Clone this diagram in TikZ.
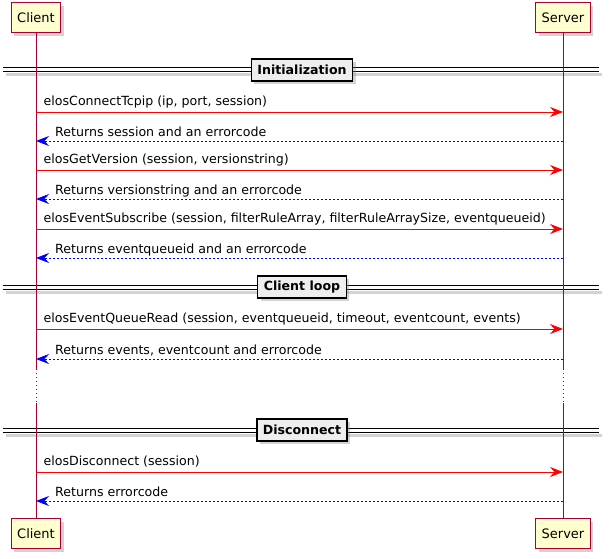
\documentclass[tikz,border=0pt]{standalone}
\usepackage{fontspec}
\setmainfont{DejaVu Sans}
\usetikzlibrary{arrows.meta, shadows, positioning}

\definecolor{lifered}{HTML}{A80036}
\definecolor{actorfill}{HTML}{FEFECE}
\definecolor{dividerfill}{HTML}{EEEEEE}

\begin{document}
\begin{tikzpicture}[
    x=1pt, y=-1pt,
    actor/.style={draw=lifered, fill=actorfill, line width=1pt, minimum height=30pt, inner xsep=6pt,
        font=\fontsize{13}{15}\selectfont,
        drop shadow={opacity=0.35, fill=gray, shadow xshift=3pt, shadow yshift=-3pt}},
    lifeline/.style={draw=lifered, line width=0.9pt},
    call/.style={red, line width=0.9pt, -{Stealth[length=13pt, width=10pt, inset=4.5pt]}},
    reply/.style={blue, line width=0.9pt, dash pattern=on 2pt off 2pt, -{Stealth[length=13pt, width=10pt, inset=4.5pt]}},
    msgfont/.style={font=\fontsize{12.6}{14}\selectfont, anchor=base west, inner sep=0pt},
    divider/.style={draw=black, line width=1.4pt, fill=dividerfill, minimum height=22pt, inner xsep=6pt,
        font=\bfseries\fontsize{12.6}{14}\selectfont,
        drop shadow={opacity=0.35, fill=gray, shadow xshift=3pt, shadow yshift=-3pt}}
]
\useasboundingbox (0,0) rectangle (610,559);

% Lifeline positions
\def\cx{36}
\def\sx{563}
\def\gaptop{369}
\def\gapbot{403}

% Dividers
\foreach \d/\y/\txt in {1/70/Initialization, 2/287/Client loop, 3/430/Disconnect} {
    \coordinate (dl\d) at (3,\y);
    \coordinate (dr\d) at (599,\y);
    \draw[gray, opacity=0.35, line width=3pt] ([xshift=3pt, yshift=-5pt]dl\d) -- ([xshift=3pt, yshift=-5pt]dr\d);
    \draw[line width=1pt] ([yshift=2pt]dl\d) -- ([yshift=2pt]dr\d);
    \draw[line width=1pt] ([yshift=-2pt]dl\d) -- ([yshift=-2pt]dr\d);
    \node[divider] (div\d) at (302,\y) {\txt\hspace{11pt}};
}

% Participants
\node[actor] (ctop) at (\cx,18) {Client};
\node[actor] (stop) at (\sx,18) {Server};
\node[actor] (cbot) at (\cx,533.5) {Client};
\node[actor] (sbot) at (\sx,533.5) {Server};

% Lifelines with the dotted break
\coordinate (cg1) at (\cx,\gaptop);
\coordinate (cg2) at (\cx,\gapbot);
\coordinate (sg1) at (\sx,\gaptop);
\coordinate (sg2) at (\sx,\gapbot);
\draw[lifeline] (ctop.south) -- (cg1);
\draw[lifeline] (stop.south) -- (sg1);
\draw[lifeline, dash pattern=on 1pt off 3pt] (cg1) -- (cg2);
\draw[lifeline, dash pattern=on 1pt off 3pt] (sg1) -- (sg2);
\draw[lifeline] (cg2) -- (cbot.north);
\draw[lifeline] (sg2) -- (sbot.north);

% Calls
\foreach \i/\y/\txt in {1/112/{elosConnectTcpip (ip, port, session)},
                        2/170/{elosGetVersion (session, versionstring)},
                        3/229/{elosEventSubscribe (session, filterRuleArray, filterRuleArraySize, eventqueueid)},
                        4/329/{elosEventQueueRead (session, eventqueueid, timeout, eventcount, events)},
                        5/472/{elosDisconnect (session)}} {
    \coordinate (cc\i) at (\cx,\y);
    \coordinate (sc\i) at (\sx,\y);
    \draw[call] (cc\i) -- (sc\i);
    \node[msgfont] (call\i) at (\cx+7.5,\y-6.5) {\txt};
}

% Replies
\foreach \i/\y/\txt in {1/141/{Returns session and an errorcode},
                        2/199/{Returns versionstring and an errorcode},
                        3/258/{Returns eventqueueid and an errorcode},
                        4/359/{Returns events, eventcount and errorcode},
                        5/501/{Returns errorcode}} {
    \coordinate (sr\i) at (\sx,\y);
    \coordinate (cr\i) at (\cx,\y);
    \draw[reply] (sr\i) -- (cr\i);
    \node[msgfont] (reply\i) at (\cx+19,\y-5) {\txt};
}

\end{tikzpicture}
\end{document}
